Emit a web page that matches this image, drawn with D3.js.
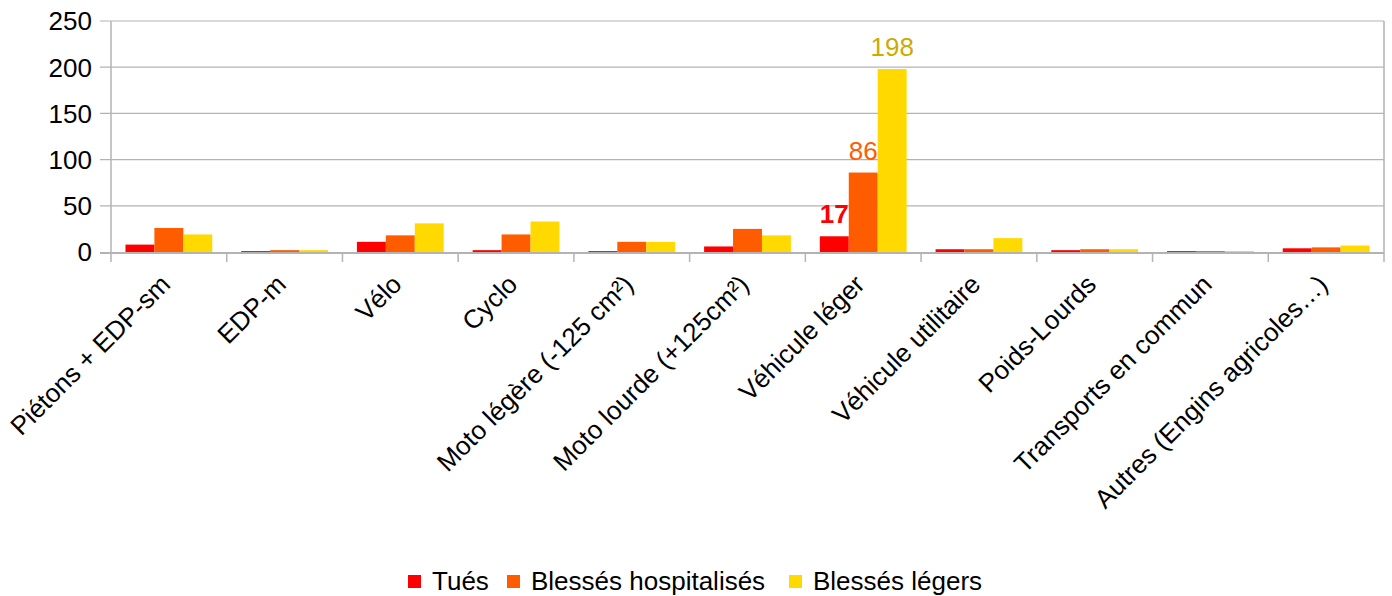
<!DOCTYPE html>
<html>
<head>
<meta charset="utf-8">
<script src="https://cdn.jsdelivr.net/npm/d3@7"></script>
<style>
body { margin: 0; background: #fff; }
text { font-family: "Liberation Sans", Arial, sans-serif; }
</style>
</head>
<body>
<div id="chart"></div>
<script>
var categories = ["Piétons + EDP-sm", "EDP-m", "Vélo", "Cyclo", "Moto légère (-125 cm²)",
	"Moto lourde (+125cm²)", "Véhicule léger", "Véhicule utilitaire", "Poids-Lourds",
	"Transports en commun", "Autres (Engins agricoles…)"];
var seriesNames = ["Tués", "Blessés hospitalisés", "Blessés légers"];
var tues = [8, 1, 11, 2, 1, 6, 17, 3, 2, 1, 4];
var hospitalises = [26, 2, 18, 19, 11, 25, 86, 3, 3, 1, 5];
var legers = [19, 2, 31, 33, 11, 18, 198, 15, 3, 1, 7];
var yTicks = [0, 50, 100, 150, 200, 250];
// only the "Véhicule léger" bars carry a value label
var labelled = ["Véhicule léger"];

var colors = ["#ff0000", "#ff5c00", "#ffd900"];
var labelColors = ["#ff0000", "#ff5c00", "#ccab00"];

var width = 1392, height = 596;
var margin = {top: 21, right: 8, bottom: 344, left: 111};

var svg = d3.select("#chart").append("svg")
	.attr("width", width)
	.attr("height", height);

var x = d3.scaleBand()
	.domain(categories)
	.range([margin.left, width - margin.right]);

var x1 = d3.scaleBand()
	.domain(seriesNames)
	.range([0, x.bandwidth()])
	.paddingOuter(0.5);

var y = d3.scaleLinear()
	.domain([0, 250])
	.range([height - margin.bottom, margin.top]);

var series = [tues, hospitalises, legers];

// gridlines + y ticks
svg.append("g")
	.selectAll("line")
	.data(yTicks.slice(1))
	.enter().append("line")
	.attr("x1", margin.left - 11)
	.attr("x2", width - margin.right)
	.attr("y1", function(d){ return y(d); })
	.attr("y2", function(d){ return y(d); })
	.attr("stroke", "#b3b3b3")
	.attr("stroke-width", 1.2);

svg.append("g")
	.selectAll("text")
	.data(yTicks)
	.enter().append("text")
	.attr("x", margin.left - 19)
	.attr("y", function(d){ return y(d); })
	.attr("dy", "0.36em")
	.attr("text-anchor", "end")
	.attr("font-size", 26)
	.attr("fill", "#000")
	.text(function(d){ return d; });

// axes frame
svg.append("line")
	.attr("x1", margin.left).attr("x2", margin.left)
	.attr("y1", y(250)).attr("y2", y(0) + 10)
	.attr("stroke", "#b3b3b3").attr("stroke-width", 1.5);
svg.append("line")
	.attr("x1", width - margin.right).attr("x2", width - margin.right)
	.attr("y1", y(250)).attr("y2", y(0) + 10)
	.attr("stroke", "#b3b3b3").attr("stroke-width", 1.5);
svg.append("line")
	.attr("x1", margin.left - 11).attr("x2", width - margin.right)
	.attr("y1", y(0) + 1).attr("y2", y(0) + 1)
	.attr("stroke", "#b3b3b3").attr("stroke-width", 2);

svg.append("g")
	.selectAll("line")
	.data(categories.slice(1))
	.enter().append("line")
	.attr("x1", function(d){ return x(d); })
	.attr("x2", function(d){ return x(d); })
	.attr("y1", y(0))
	.attr("y2", y(0) + 10)
	.attr("stroke", "#b3b3b3")
	.attr("stroke-width", 1.5);

// bars
var groups = svg.append("g")
	.selectAll("g")
	.data(categories)
	.enter().append("g")
	.attr("transform", function(d){ return "translate(" + x(d) + ",0)"; });

groups.selectAll("rect")
	.data(function(c, i){ return series.map(function(s, k){ return {name: seriesNames[k], v: s[i], k: k}; }); })
	.enter().append("rect")
	.attr("x", function(d){ return x1(d.name); })
	.attr("width", x1.bandwidth())
	.attr("y", function(d){ return y(d.v); })
	.attr("height", function(d){ return y(0) - y(d.v); })
	.attr("fill", function(d){ return colors[d.k]; });

// category labels
svg.append("g")
	.selectAll("text")
	.data(categories)
	.enter().append("text")
	.attr("transform", function(d){
		return "translate(" + (x(d) + x.bandwidth() / 2 + 3) + "," + (y(0) + 34) + ") rotate(-45)";
	})
	.attr("text-anchor", "end")
	.attr("font-size", 26)
	.attr("fill", "#000")
	.text(function(d){ return d; });

// value labels
groups.filter(function(c){ return labelled.indexOf(c) >= 0; })
	.selectAll("text")
	.data(function(c){ var i = categories.indexOf(c); return series.map(function(s, k){ return {name: seriesNames[k], v: s[i], k: k}; }); })
	.enter().append("text")
	.attr("x", function(d){ return x1(d.name) + x1.bandwidth() / 2; })
	.attr("y", function(d){ return y(d.v) - 13; })
	.attr("text-anchor", "middle")
	.attr("font-size", 26)
	.attr("font-weight", function(d){ return d.k == 0 ? "bold" : "normal"; })
	.attr("fill", function(d){ return labelColors[d.k]; })
	.text(function(d){ return d.v; });

// legend
var legend = svg.append("g").attr("transform", "translate(0," + 581 + ")");
var lx = [408, 507, 789];
var items = legend.selectAll("g")
	.data(seriesNames)
	.enter().append("g")
	.attr("transform", function(d, i){ return "translate(" + lx[i] + ",0)"; });
items.append("rect")
	.attr("x", 0).attr("y", -6)
	.attr("width", 13).attr("height", 13)
	.attr("fill", function(d, i){ return colors[i]; });
items.append("text")
	.attr("x", 24)
	.attr("dy", "0.36em")
	.attr("font-size", 26)
	.attr("fill", "#000")
	.text(function(d){ return d; });
</script>
</body>
</html>
